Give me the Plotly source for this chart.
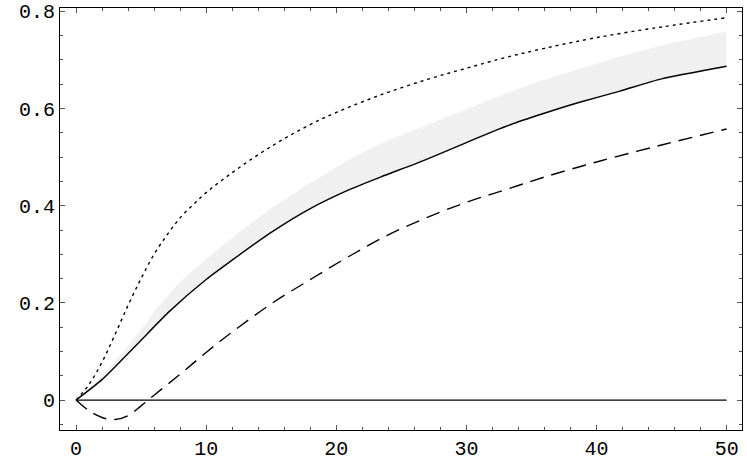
import plotly.graph_objects as go

# ---- data ----
solid_x = [0, 2, 4.7, 7.2, 10, 12, 15, 18, 21, 23.4, 26.7, 30, 33.6, 36.4, 38.7, 41.8, 45, 50]
solid_y = [0, 0.042, 0.115, 0.183, 0.248, 0.288, 0.345, 0.394, 0.433, 0.459, 0.493, 0.530, 0.569, 0.594, 0.613, 0.636, 0.661, 0.687]

band_x = [0, 2, 4, 6.2, 8, 10, 12.6, 15, 17.7, 20.8, 23.4, 25, 28.5, 30, 33.6, 36.4, 38.7, 41.8, 45, 50]
band_upper = [0, 0.050, 0.110, 0.188, 0.243, 0.290, 0.347, 0.395, 0.442, 0.492, 0.528, 0.545, 0.582, 0.598, 0.637, 0.663, 0.682, 0.707, 0.730, 0.759]

dotted_x = [0, 1, 2, 3, 4, 5, 6, 7, 8, 9, 10, 12, 14, 16, 18, 20, 23.4, 27, 30, 33, 36, 40, 45, 50]
dotted_y = [0, 0.032, 0.078, 0.135, 0.195, 0.250, 0.300, 0.340, 0.375, 0.402, 0.427, 0.468, 0.505, 0.538, 0.567, 0.592, 0.628, 0.660, 0.683, 0.705, 0.724, 0.746, 0.768, 0.787]

dashed_x = [0, 1, 2, 3, 4, 5, 6, 8, 10, 12, 15, 18, 21, 24, 27, 30, 33, 36, 40, 45, 50]
dashed_y = [0, -0.022, -0.036, -0.040, -0.032, -0.012, 0.010, 0.053, 0.098, 0.140, 0.198, 0.248, 0.296, 0.340, 0.376, 0.407, 0.433, 0.459, 0.490, 0.525, 0.558]

zero_x = [0, 50]
zero_y = [0, 0]

x_ticks = [0, 10, 20, 30, 40, 50]
y_ticks = [0, 0.2, 0.4, 0.6, 0.8]
y_tick_text = ["0", "0.2", "0.4", "0.6", "0.8"]

fig = go.Figure()

# shaded band between the solid curve and its upper bound
poly_x = band_x + solid_x[::-1]
poly_y = band_upper + solid_y[::-1]
fig.add_trace(go.Scatter(x=poly_x, y=poly_y, mode="lines", line=dict(width=0, color="rgba(0,0,0,0)"),
                         fill="toself", fillcolor="#f0f0f0", showlegend=False, hoverinfo="skip"))

fig.add_trace(go.Scatter(x=zero_x, y=zero_y, mode="lines", line=dict(color="black", width=1.3), showlegend=False))
fig.add_trace(go.Scatter(x=solid_x, y=solid_y, mode="lines", line=dict(color="black", width=1.4, shape="spline", smoothing=0.6),
                         showlegend=False))
fig.add_trace(go.Scatter(x=dotted_x, y=dotted_y, mode="lines", line=dict(color="black", width=1.4, dash="3px,4px", shape="spline"),
                         showlegend=False))
fig.add_trace(go.Scatter(x=dashed_x, y=dashed_y, mode="lines", line=dict(color="black", width=1.4, dash="14px,8px", shape="spline"),
                         showlegend=False))

font = dict(family="Liberation Mono, Courier New, monospace", size=20, color="black")

fig.update_xaxes(range=[-1.23, 51.18], tickvals=x_ticks, ticks="inside", ticklen=5, tickcolor="#555",
                 showline=True, linecolor="black", linewidth=1, mirror="allticks", showgrid=False, zeroline=False,
                 tickfont=font, automargin=False,
                 minor=dict(dtick=2, tick0=0, ticks="inside", ticklen=3, tickcolor="#555", showgrid=False))
fig.update_yaxes(range=[-0.0617, 0.807], tickvals=y_ticks, ticktext=y_tick_text, ticks="inside", ticklen=5, tickcolor="#555",
                 showline=True, linecolor="black", linewidth=1, mirror="allticks", showgrid=False, zeroline=False,
                 tickfont=font, automargin=False,
                 minor=dict(dtick=0.05, tick0=0, ticks="inside", ticklen=3, tickcolor="#555", showgrid=False))

fig.update_layout(width=747, height=462, margin=dict(l=60, r=5, t=8, b=32, autoexpand=False),
                  plot_bgcolor="white", paper_bgcolor="white", showlegend=False)

fig.write_html("out.html", config={"displayModeBar": False},
               post_script="document.body.style.margin='0';document.body.style.overflow='hidden';")
